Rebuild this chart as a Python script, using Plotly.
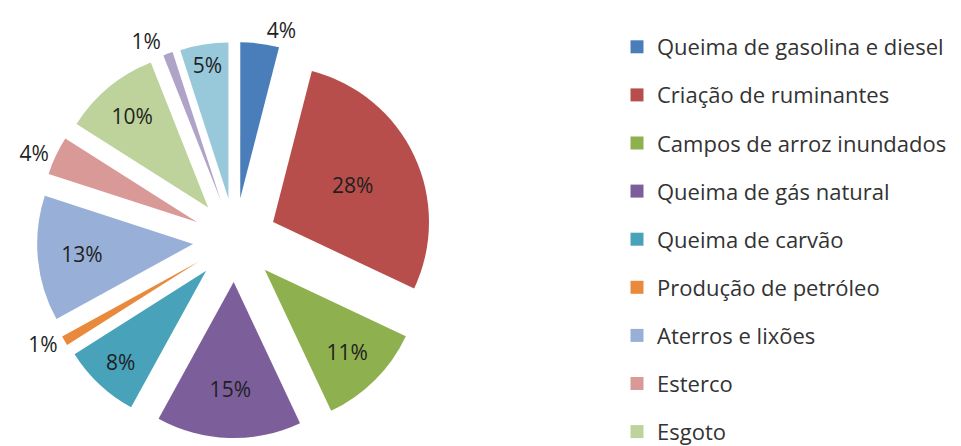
import plotly.graph_objects as go

# ---- data -------------------------------------------------------------
categories = [
    "Queima de gasolina e diesel",
    "Criação de ruminantes",
    "Campos de arroz inundados",
    "Queima de gás natural",
    "Queima de carvão",
    "Produção de petróleo",
    "Aterros e lixões",
    "Esterco",
    "Esgoto",
    "Cupins",
    "Queima de biomassa",
]
values = [4, 28, 11, 15, 8, 1, 13, 4, 10, 1, 5]
legend_count = 9  # entries visible in the reference legend

# ---- styles -----------------------------------------------------------
colors = ["#4A7EBB", "#B84E4B", "#8FB04F", "#7C5F9A", "#47A2BA", "#E8893C",
          "#98AFD7", "#D89997", "#BED29B", "#B0A3C8", "#98C9DA"]
label_positions = ["outside", "inside", "inside", "inside", "inside", "outside",
                   "inside", "outside", "inside", "outside", "inside"]
FONT = "Open Sans"

W, H = 961, 446
cx, cy, box = 227, 232, 396  # pie box centre (px) and size

fig = go.Figure()
fig.add_trace(go.Pie(
    labels=categories, values=values, sort=False, direction="clockwise", rotation=0,
    pull=[0.27] * len(values),
    marker=dict(colors=colors, line=dict(width=0)),
    texttemplate="%{value}%", textposition=label_positions,
    insidetextorientation="horizontal",
    textfont=dict(family=FONT, size=21, color="#1F1F1F"),
    showlegend=False, hoverinfo="skip",
    domain=dict(x=[(cx - box / 2) / W, (cx + box / 2) / W],
                y=[1 - (cy + box / 2) / H, 1 - (cy - box / 2) / H]),
))

for name, color in zip(categories[:legend_count], colors[:legend_count]):
    fig.add_trace(go.Scatter(
        x=[None], y=[None], mode="markers", name=name, legendgroup=name,
        marker=dict(symbol="square", size=13, color=color), hoverinfo="skip"))

fig.update_layout(
    width=W, height=H,
    margin=dict(l=0, r=0, t=0, b=0, autoexpand=False),
    paper_bgcolor="white", plot_bgcolor="white",
    xaxis=dict(visible=False), yaxis=dict(visible=False),
    hovermode=False,
    showlegend=True,
    legend=dict(x=609 / W, y=1 - 18 / H, xanchor="left", yanchor="top",
                font=dict(family=FONT, size=22, color="#333333"),
                tracegroupgap=16.5, bgcolor="rgba(0,0,0,0)", itemclick=False,
                itemdoubleclick=False),
)

fig.write_html("out.html")
